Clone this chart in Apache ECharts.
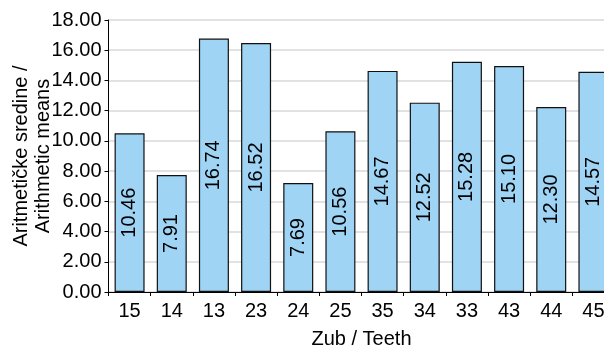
<!DOCTYPE html>
<html>
<head>
<meta charset="utf-8">
<script src="https://cdn.jsdelivr.net/npm/echarts@6/dist/echarts.min.js"></script>
<style>html,body{margin:0;padding:0;background:#fff;}#c{width:604px;height:346px;}</style>
</head>
<body>
<div id="c"></div>
<script>
var categories = ['15','14','13','23','24','25','35','34','33','43','44','45'];
var barHeights = [10.50, 7.74, 16.77, 16.48, 7.21, 10.64, 14.63, 12.53, 15.24, 14.96, 12.24, 14.58];
var barLabels = ['10.46','7.91','16.74','16.52','7.69','10.56','14.67','12.52','15.28','15.10','12.30','14.57'];
var yTicks = [0, 2, 4, 6, 8, 10, 12, 14, 16, 18];

var FONT = '"Liberation Sans", Arial, Helvetica, sans-serif';
var chart = echarts.init(document.getElementById('c'), null, {renderer: 'canvas'});
chart.setOption({
  animation: false,
  backgroundColor: '#ffffff',
  grid: {left: 108.5, top: 20, width: 506, height: 272, containLabel: false, outerBoundsMode: 'none'},
  xAxis: {
    type: 'category',
    data: categories,
    name: 'Zub / Teeth',
    nameLocation: 'middle',
    nameGap: 37,
    nameMoveOverlap: false,
    nameTextStyle: {fontFamily: FONT, fontSize: 20, color: '#000'},
    axisLine: {lineStyle: {color: '#000', width: 1}},
    axisTick: {show: true, length: 4, lineStyle: {color: '#000'}},
    axisLabel: {fontFamily: FONT, fontSize: 20, color: '#000', margin: 9},
    splitLine: {show: false}
  },
  yAxis: {
    type: 'value',
    min: yTicks[0],
    max: yTicks[yTicks.length - 1],
    interval: 2,
    name: 'Aritmetičke sredine /\nArithmetic means',
    nameLocation: 'middle',
    nameGap: 54,
    nameMoveOverlap: false,
    nameTextStyle: {fontFamily: FONT, fontSize: 20, color: '#000', lineHeight: 22},
    axisLine: {show: true, lineStyle: {color: '#000', width: 1}},
    axisTick: {show: true, length: 4, lineStyle: {color: '#000'}},
    axisLabel: {fontFamily: FONT, fontSize: 20, color: '#000', margin: 7,
      formatter: function (v) { return v.toFixed(2); }},
    splitLine: {show: true, lineStyle: {color: '#d9d9d9', width: 1.5}}
  },
  series: [{
    type: 'bar',
    data: barHeights,
    barWidth: 30,
    itemStyle: {color: '#9fd4f5', borderColor: '#111', borderWidth: 1.2},
    label: {
      show: true,
      position: 'inside',
      rotate: 90,
      fontFamily: FONT,
      fontSize: 20,
      color: '#000',
      formatter: function (p) { return barLabels[p.dataIndex]; }
    }
  }]
});
</script>
</body>
</html>
